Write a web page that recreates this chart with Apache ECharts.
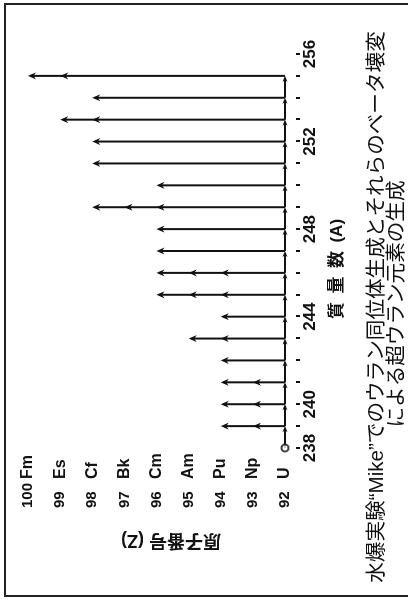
<!DOCTYPE html>
<html>
<head>
<meta charset="utf-8">
<script src="https://cdn.jsdelivr.net/npm/echarts@6/dist/echarts.min.js"></script>
<style>
  html, body { margin: 0; padding: 0; background: #fff; overflow: hidden; }
  /* the figure is printed sideways: draw it upright, then turn it a quarter turn */
  #chart {
    position: absolute; left: 0; top: 0;
    width: 600px; height: 408px;
    transform-origin: 0 0;
    transform: translate(0, 600px) rotate(-90deg);
  }
</style>
</head>
<body>
<div id="chart"></div>
<script>
// --- data ---
const startMass = 238;
const massNumbers = [239, 240, 241, 242, 243, 244, 245, 246, 247, 248, 249, 250, 251, 252, 253, 254, 255];
const finalZ      = [94, 94, 94, 94, 95, 94, 96, 96, 96, 96, 98, 96, 98, 98, 99, 98, 100];
const firstArrowZ = [93, 93, 93, 94, 94, 94, 94, 94, 96, 96, 96, 96, 98, 98, 98, 98, 99];
const zValues  = [92, 93, 94, 95, 96, 97, 98, 99, 100];
const elements = ['U', 'Np', 'Pu', 'Am', 'Cm', 'Bk', 'Cf', 'Es', 'Fm'];
const massLabels = [238, 240, 244, 248, 252, 256];

const ink = '#111';
const latin = '"Liberation Sans", Arial, sans-serif';
const jp = '"Liberation Sans", "Noto Sans CJK JP", sans-serif';

const chart = echarts.init(document.getElementById('chart'), null, { width: 600, height: 408 });

function arrowHead(tip, dir, len, half) {
  const nx = -dir[1], ny = dir[0];
  return [
    tip,
    [tip[0] - dir[0] * len + nx * half, tip[1] - dir[1] * len + ny * half],
    [tip[0] - dir[0] * len * 0.7, tip[1] - dir[1] * len * 0.7],
    [tip[0] - dir[0] * len - nx * half, tip[1] - dir[1] * len - ny * half]
  ];
}

// beta decay chains, one per mass number
function renderBeta(params, api) {
  const a = api.value(0), zEnd = api.value(1), zHead = api.value(2);
  const base = api.coord([a, zValues[0]]);
  const end = api.coord([a, zEnd]);
  const children = [{
    type: 'line',
    shape: { x1: base[0], y1: base[1], x2: end[0], y2: end[1] + 3 },
    style: { stroke: ink, lineWidth: 2 }
  }];
  for (let z = zHead; z <= zEnd; z++) {
    const p = api.coord([a, z]);
    children.push({
      type: 'polygon',
      shape: { points: arrowHead(p, [0, -1], 8, 3.5) },
      style: { fill: ink }
    });
  }
  return { type: 'group', children: children };
}

// neutron capture chain along uranium
function renderCapture(params, api) {
  const a = api.value(0);
  const from = api.coord([a - 1, zValues[0]]);
  const to = api.coord([a, zValues[0]]);
  return {
    type: 'group',
    children: [
      { type: 'line', shape: { x1: from[0], y1: from[1], x2: to[0] - 2, y2: to[1] }, style: { stroke: ink, lineWidth: 2 } },
      { type: 'polygon', shape: { points: arrowHead(to, [1, 0], 6, 2.6) }, style: { fill: ink } }
    ]
  };
}

const option = {
  backgroundColor: '#fff',
  animation: false,
  grid: { left: 152, right: 54, top: 28, bottom: 123 },
  xAxis: {
    type: 'value',
    min: startMass,
    max: 256,
    interval: 1,
    offset: 11,
    axisLine: { show: false },
    splitLine: { show: false },
    axisTick: { show: true, length: 4, lineStyle: { color: ink, width: 2 } },
    axisLabel: {
      customValues: massLabels,
      margin: 6,
      color: ink,
      fontSize: 17,
      fontWeight: 'bold',
      fontFamily: latin
    }
  },
  yAxis: {
    type: 'value',
    min: 92,
    max: 100,
    interval: 1,
    axisLine: { show: false },
    axisTick: { show: false },
    splitLine: { show: false },
    axisLabel: {
      align: 'left',
      margin: 60,
      formatter: function (v) {
        return '{n|' + v + '}{s|' + elements[zValues.indexOf(v)] + '}';
      },
      rich: {
        n: { width: 29, fontSize: 15, fontWeight: 'bold', fontFamily: latin, color: ink },
        s: { fontSize: 16, fontWeight: 'bold', fontFamily: latin, color: ink }
      }
    }
  },
  graphic: [
    { type: 'rect', silent: true, shape: { x: 4, y: 5, width: 592, height: 440 },
      style: { fill: 'none', stroke: '#222', lineWidth: 2 } },
    { type: 'text', x: 60, y: 171, rotation: Math.PI / 2,
      style: { text: '原子番号 (Z)', align: 'center', verticalAlign: 'middle',
               font: 'bold 18px ' + jp, fill: ink } },
    { type: 'text', x: 331, y: 337,
      style: { text: '質\u2002量\u2002数\u2002(A)', align: 'center', verticalAlign: 'middle',
               font: 'bold 17px ' + jp, fill: ink } },
    { type: 'text', x: 293, y: 377,
      style: { text: '水爆実験“Mike”でのウラン同位体生成とそれらのベータ壊変', align: 'center', verticalAlign: 'middle',
               font: '20.6px ' + jp, fill: ink } },
    { type: 'text', x: 296, y: 397,
      style: { text: 'による超ウラン元素の生成', align: 'center', verticalAlign: 'middle',
               font: '20.6px ' + jp, fill: ink } }
  ],
  series: [
    {
      type: 'custom',
      renderItem: renderCapture,
      data: massNumbers.map(function (a) { return [a]; })
    },
    {
      type: 'custom',
      renderItem: renderBeta,
      data: massNumbers.map(function (a, i) { return [a, finalZ[i], firstArrowZ[i]]; })
    },
    {
      type: 'scatter',
      symbol: 'circle',
      symbolSize: 7,
      itemStyle: { color: '#fff', borderColor: ink, borderWidth: 2 },
      data: [[startMass, zValues[0]]]
    }
  ]
};

chart.setOption(option);
</script>
</body>
</html>
